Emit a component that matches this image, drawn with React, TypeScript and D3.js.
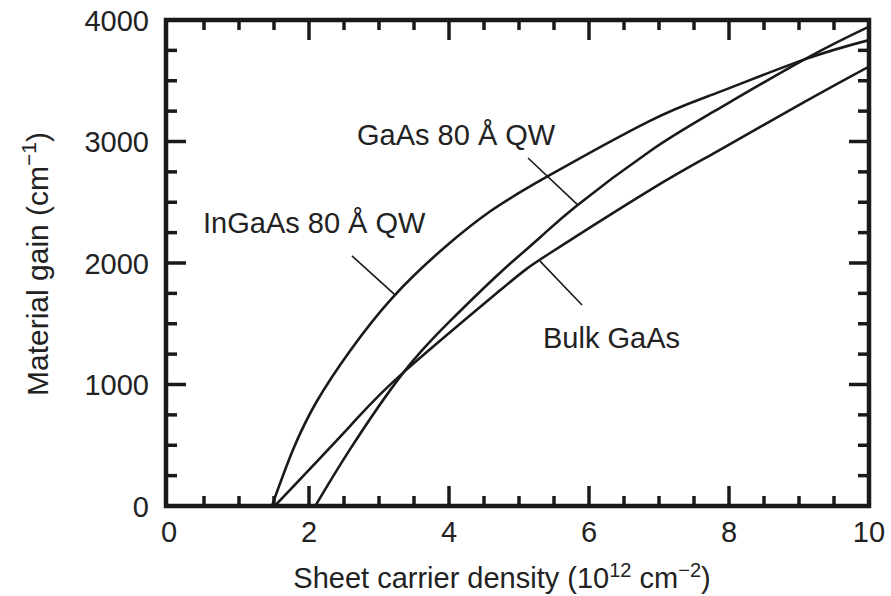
import React from "react";
import * as d3 from "d3";

// Sheet carrier density (10^12 cm^-2) and material gain (cm^-1) for each structure
const inGaAsDensity = [1.47, 1.77, 2.11, 2.59, 3.2, 3.94, 4.6, 5.4, 6.87, 7.82, 9.06, 10];
const inGaAsGain = [0, 460, 860, 1280, 1720, 2130, 2430, 2710, 3170, 3398, 3672, 3835];

const gaAsQwDensity = [2.09, 2.59, 3.35, 4.01, 4.73, 5.3, 5.82, 6.87, 7.78, 9.06, 10];
const gaAsQwGain = [0, 470, 1100, 1520, 1920, 2210, 2470, 2920, 3245, 3670, 3945];

const bulkDensity = [1.51, 2.59, 3.35, 4.73, 5.44, 6.87, 7.82, 9.06, 10];
const bulkGain = [0, 660, 1100, 1775, 2080, 2600, 2915, 3320, 3617];

const xMajorTicks = [0, 2, 4, 6, 8, 10];
const yMajorTicks = [0, 1000, 2000, 3000, 4000];

// Curve labels with their leader lines, in data units
const labelNames = ["InGaAs 80 Å QW", "GaAs 80 Å QW", "Bulk GaAs"];
const labelAt = [
  [0.486, 2247],
  [2.686, 2971],
  [5.343, 1300],
];
const leaderFrom = [
  [2.614, 2058],
  [5.129, 2864],
  [5.3, 2015],
];
const leaderTo = [
  [3.229, 1737],
  [5.843, 2477],
  [5.9, 1654],
];

const W = 891;
const H = 596;
const FONT = "'Liberation Sans', Arial, Helvetica, sans-serif";
const FS = 29;

export default function App() {
  const x = d3.scaleLinear().domain([0, 10]).range([169, 869]);
  const y = d3.scaleLinear().domain([0, 4000]).range([506, 20]);

  const line = d3
    .line<[number, number]>()
    .x((d) => x(d[0]))
    .y((d) => y(d[1]))
    .curve(d3.curveNatural);

  const series = [
    d3.zip(inGaAsDensity, inGaAsGain) as [number, number][],
    d3.zip(gaAsQwDensity, gaAsQwGain) as [number, number][],
    d3.zip(bulkDensity, bulkGain) as [number, number][],
  ];

  const xMinor = d3.range(0.5, 10, 0.5).filter((v) => v % 2 !== 0);
  const yMinor = d3.range(250, 4000, 250).filter((v) => v % 1000 !== 0);

  const left = x(0) - 3;
  const right = x(10);
  const top = y(4000);
  const bottom = y(0);

  const tickW = 3.5;
  const minorLen = 10;
  const majorLen = 20;

  return (
    <svg
      width={W}
      height={H}
      style={{ position: "absolute", left: 0, top: 0, background: "#fff" }}
      fontFamily={FONT}
    >
      <defs>
        <clipPath id="plot-clip">
          <rect x={left} y={top} width={right - left} height={bottom - top} />
        </clipPath>
      </defs>

      {/* gain curves */}
      <g clipPath="url(#plot-clip)">
        {series.map((s, i) => (
          <path key={i} d={line(s) ?? ""} fill="none" stroke="#1a1a1a" strokeWidth={2.6} />
        ))}
      </g>

      {/* leader lines */}
      {leaderFrom.map((p, i) => (
        <line
          key={i}
          x1={x(p[0])}
          y1={y(p[1])}
          x2={x(leaderTo[i][0])}
          y2={y(leaderTo[i][1])}
          stroke="#1a1a1a"
          strokeWidth={1.6}
        />
      ))}

      {/* curve labels */}
      {labelNames.map((t, i) => (
        <text key={t} x={x(labelAt[i][0])} y={y(labelAt[i][1])} fontSize={FS} fill="#222">
          {t}
        </text>
      ))}

      {/* ticks on all four sides, pointing inward */}
      <g stroke="#1a1a1a" strokeWidth={tickW}>
        {xMinor.map((v) => (
          <g key={"xm" + v}>
            <line x1={x(v)} x2={x(v)} y1={bottom} y2={bottom - minorLen} />
            <line x1={x(v)} x2={x(v)} y1={top} y2={top + minorLen} />
          </g>
        ))}
        {xMajorTicks.slice(1, -1).map((v) => (
          <g key={"xM" + v}>
            <line x1={x(v)} x2={x(v)} y1={bottom} y2={bottom - majorLen} />
            <line x1={x(v)} x2={x(v)} y1={top} y2={top + majorLen} />
          </g>
        ))}
        {yMinor.map((v) => (
          <g key={"ym" + v}>
            <line x1={left} x2={left + minorLen + 1} y1={y(v)} y2={y(v)} />
            <line x1={right} x2={right - minorLen - 1} y1={y(v)} y2={y(v)} />
          </g>
        ))}
        {yMajorTicks.slice(1, -1).map((v) => (
          <g key={"yM" + v}>
            <line x1={left} x2={left + majorLen} y1={y(v)} y2={y(v)} />
            <line x1={right} x2={right - majorLen} y1={y(v)} y2={y(v)} />
          </g>
        ))}
      </g>

      {/* frame */}
      <rect
        x={left}
        y={top}
        width={right - left}
        height={bottom - top}
        fill="none"
        stroke="#1a1a1a"
        strokeWidth={4.5}
      />

      {/* tick labels */}
      {xMajorTicks.map((v) => (
        <text key={"xl" + v} x={x(v)} y={542} textAnchor="middle" fontSize={FS} fill="#222">
          {v}
        </text>
      ))}
      {yMajorTicks.map((v) => (
        <text
          key={"yl" + v}
          x={149}
          y={y(v) + 10.5}
          textAnchor="end"
          fontSize={FS}
          fill="#222"
        >
          {v}
        </text>
      ))}

      {/* axis titles */}
      <text x={502} y={588} textAnchor="middle" fontSize={FS} fill="#222">
        Sheet carrier density (10
        <tspan fontSize={20} dy={-11}>12</tspan>
        <tspan dy={11}> cm</tspan>
        <tspan fontSize={20} dy={-11}>−2</tspan>
        <tspan dy={11}>)</tspan>
      </text>
      <text
        transform={`translate(48, 264) rotate(-90)`}
        textAnchor="middle"
        fontSize={30}
        fill="#222"
      >
        Material gain (cm
        <tspan fontSize={21} dy={-12}>−1</tspan>
        <tspan dy={12}>)</tspan>
      </text>
    </svg>
  );
}
